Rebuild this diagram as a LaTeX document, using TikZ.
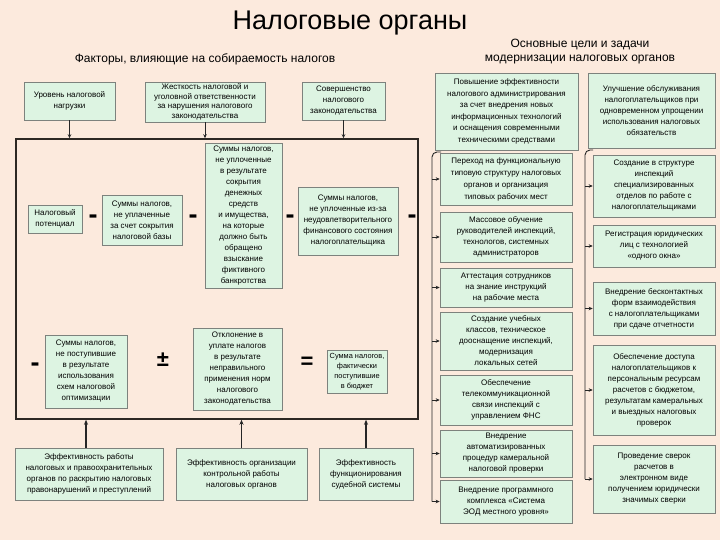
\documentclass[tikz,border=0pt]{standalone}
\usepackage{fontspec}
\setmainfont{Liberation Sans}
\usetikzlibrary{shadows,arrows.meta,calc}
\definecolor{bg}{RGB}{252,234,221}
\definecolor{boxfill}{RGB}{221,244,226}
\definecolor{boxline}{RGB}{125,130,125}
\definecolor{framecol}{RGB}{45,40,35}
\begin{document}
\begin{tikzpicture}[x=1pt,y=-1pt,
  box/.style={draw=boxline, fill=boxfill, line width=0.6pt, align=center, inner sep=1pt,
    font=\fontsize{8}{11}\selectfont,
    drop shadow={shadow xshift=1.3pt, shadow yshift=-1.3pt, fill=black!50, opacity=1}},
  head/.style={align=center, font=\fontsize{12}{14}\selectfont},
  sign/.style={font=\bfseries\fontsize{22}{22}\selectfont, inner sep=0pt},
  minussign/.style={font=\bfseries\fontsize{27}{27}\selectfont, inner sep=0pt},
  arr/.style={-{Stealth[length=4pt,width=3.5pt]}, line width=0.8pt, draw=black!85},
  uparr/.style={-{Stealth[length=5pt,width=4pt]}, line width=1.3pt, draw=black!85},
  conn/.style={line width=0.9pt, draw=black!85, rounded corners=5pt}
]
\fill[bg] (0,0) rectangle (720,540);
\useasboundingbox (0,0) rectangle (720,540);

% titles
\node[font=\fontsize{27}{30}\selectfont] (title) at (350,23) {Налоговые органы};
\node[head] (hleft) at (205,59) {Факторы, влияющие на собираемость налогов};
\node[head] (hright) at (580,52) {Основные цели и задачи\\модернизации налоговых органов};

% big frame
\node[draw=framecol, line width=1.5pt, minimum width=402pt, minimum height=280pt, inner sep=0pt] (frame) at (217,279) {};

% top factor boxes
\node[box, minimum width=91pt, minimum height=38pt] (f1) at (69.5,101) {Уровень налоговой\\нагрузки};
\node[box, minimum width=120pt, minimum height=40pt, font=\fontsize{8}{9.5}\selectfont] (f2) at (205,102) {Жесткость налоговой и\\уголовной ответственности\\за нарушения налогового\\законодательства};
\node[box, minimum width=83pt, minimum height=38pt] (f3) at (343.5,101) {Совершенство\\налогового\\законодательства};
\draw[arr] (f1.south) -- (f1.south |- frame.north);
\draw[arr] (f2.south) -- (f2.south |- frame.north);
\draw[arr] (f3.south) -- (f3.south |- frame.north);

% inside frame, first row
\node[box, minimum width=54pt, minimum height=28pt] (pot) at (55,219) {Налоговый\\потенциал};
\node[box, minimum width=80pt, minimum height=50pt] (s1) at (142,220) {Суммы налогов,\\не уплаченные\\за счет сокрытия\\налоговой базы};
\node[box, minimum width=77pt, minimum height=145pt] (s2) at (243.5,215.5) {Суммы налогов,\\не уплоченные\\в результате\\сокрытия\\денежных\\средств\\и имущества,\\на которые\\должно быть\\обращено\\взыскание\\фиктивного\\банкротства};
\node[box, minimum width=100pt, minimum height=68pt] (s3) at (348,221) {Суммы налогов,\\не уплоченные из-за\\неудовлетворительного\\финансового состояния\\налогоплательщика};
\node[minussign] (m1) at (93,219) {-};
\node[minussign] (m2) at (193,219) {-};
\node[minussign] (m3) at (290,219) {-};
\node[minussign] (m4) at (412,219) {-};

% second row
\node[minussign] (m5) at (35,367) {-};
\node[box, minimum width=82pt, minimum height=73pt] (o1) at (86,371.5) {Суммы налогов,\\не поступившие\\в результате\\использования\\схем налоговой\\оптимизации};
\node[sign] (pm) at (163,360) {±};
\node[box, minimum width=89pt, minimum height=82pt] (o2) at (237.5,369) {Отклонение в\\уплате налогов\\в результате\\неправильного\\применения норм\\налогового\\законодательства};
\node[sign] (eq) at (307,363) {=};
\node[box, minimum width=60pt, minimum height=43pt, font=\fontsize{7.4}{10}\selectfont] (o3) at (357,371.5) {Сумма налогов,\\фактически\\поступившие\\в бюджет};

% bottom boxes
\node[box, minimum width=148pt, minimum height=52pt] (b1) at (89,474) {Эффективность работы\\налоговых и правоохранительных\\органов по раскрытию налоговых\\правонарушений и преступлений};
\node[box, minimum width=131pt, minimum height=52pt] (b2) at (241.5,474) {Эффективность организации\\контрольной работы\\налоговых органов};
\node[box, minimum width=94pt, minimum height=52pt] (b3) at (366,474) {Эффективность\\функционирования\\судебной системы};
\draw[uparr] ([xshift=-3pt]b1.north) -- ([xshift=-3pt]b1.north |- frame.south);
\draw[uparr] (b2.north) -- (b2.north |- frame.south);
\draw[uparr] (b3.north) -- (b3.north |- frame.south);

% right part: goals
\node[box, minimum width=143pt, minimum height=77pt, font=\fontsize{8}{11.5}\selectfont] (gA) at (506.5,111.5) {Повышение эффективности\\налогового администрирования\\за счет внедрения новых\\информационных технологий\\и оснащения современными\\техническими средствами};
\node[box, minimum width=127pt, minimum height=75pt] (gB) at (651.5,110.5) {Улучшение обслуживания\\налогоплательщиков при\\одновременном упрощении\\использования налоговых\\обязательств};

% left column of tasks
\node[box, minimum width=132pt, minimum height=52pt, font=\fontsize{8}{12}\selectfont] (L1) at (506,179) {Переход на функциональную\\типовую структуру налоговых\\органов и организация\\типовых рабочих мест};
\node[box, minimum width=132pt, minimum height=50pt] (L2) at (506,237) {Массовое обучение\\руководителей инспекций,\\технологов, системных\\администраторов};
\node[box, minimum width=132pt, minimum height=39pt] (L3) at (506,287.5) {Аттестация сотрудников\\на знание инструкций\\на рабочие места};
\node[box, minimum width=132pt, minimum height=58pt] (L4) at (506,341) {Создание учебных\\классов, техническое\\дооснащение инспекций,\\модернизация\\локальных сетей};
\node[box, minimum width=132pt, minimum height=50pt] (L5) at (506,400) {Обеспечение\\телекоммуникационной\\связи инспекций с\\управлением ФНС};
\node[box, minimum width=132pt, minimum height=47pt] (L6) at (506,453.5) {Внедрение\\автоматизированных\\процедур камеральной\\налоговой проверки};
\node[box, minimum width=132pt, minimum height=43pt] (L7) at (506,501.5) {Внедрение программного\\комплекса «Система\\ЭОД местного уровня»};

% right column of tasks
\node[box, minimum width=122pt, minimum height=62pt] (R1) at (654,186) {Создание в структуре\\инспекций\\специализированных\\отделов по работе с\\налогоплательщиками};
\node[box, minimum width=122pt, minimum height=42pt] (R2) at (654,246) {Регистрация юридических\\лиц с технологией\\«одного окна»};
\node[box, minimum width=122pt, minimum height=53pt] (R3) at (654,308.5) {Внедрение бесконтактных\\форм взаимодействия\\с налогоплательщиками\\при сдаче отчетности};
\node[box, minimum width=122pt, minimum height=90pt] (R4) at (654,390) {Обеспечение доступа\\налогоплательщиков к\\персональным ресурсам\\расчетов с бюджетом,\\результатам камеральных\\и выездных налоговых\\проверок};
\node[box, minimum width=122pt, minimum height=68pt] (R5) at (654,479) {Проведение сверок\\расчетов в\\электронном виде\\получением юридически\\значимых сверки};

% connectors
\coordinate (lt) at (441,152);
\coordinate (lx) at (432,152);
\draw[conn] (lt) -- (lx) -- (lx |- L7.west);
\foreach \n in {L1,L2,L3,L4,L5,L6,L7} {\draw[arr] (lx |- \n.west) -- (\n.west);}
\coordinate (rt) at (593,150);
\coordinate (rx) at (585,150);
\draw[conn] (rt) -- (rx) -- (rx |- R5.west);
\foreach \n in {R1,R2,R3,R4,R5} {\draw[arr] (rx |- \n.west) -- (\n.west);}
\end{tikzpicture}
\end{document}
